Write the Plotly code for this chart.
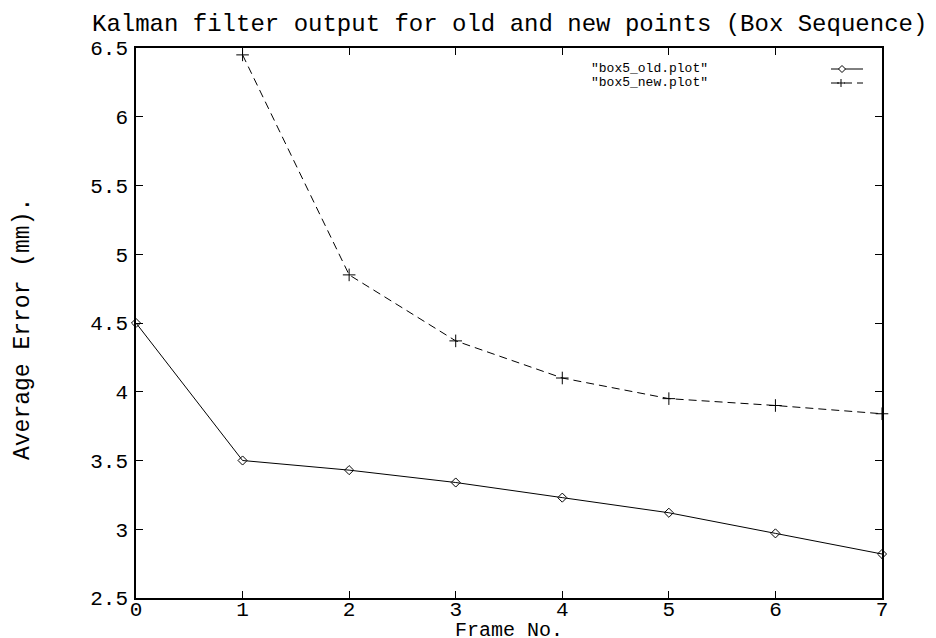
import plotly.graph_objects as go

# ---- data ----
frames_old = [0, 1, 2, 3, 4, 5, 6, 7]
err_old = [4.50, 3.50, 3.43, 3.34, 3.23, 3.12, 2.97, 2.82]
frames_new = [1, 2, 3, 4, 5, 6, 7]
err_new = [6.45, 4.85, 4.37, 4.10, 3.95, 3.90, 3.84]
x_ticks = [0, 1, 2, 3, 4, 5, 6, 7]
y_ticks = [2.5, 3, 3.5, 4, 4.5, 5, 5.5, 6, 6.5]
y_tick_text = ["2.5", "3", "3.5", "4", "4.5", "5", "5.5", "6", "6.5"]
name_old = '"box5_old.plot"'
name_new = '"box5_new.plot"'
title_text = "Kalman filter output for old and new points (Box Sequence)"
x_title = "Frame No."
y_title = "Average Error (mm)."

W, H = 936, 638
L, R, T, B = 128, 62, 40, 48
PW, PH = W - L - R, H - T - B
FONT = "Courier New, Courier, Liberation Mono, monospace"


def px(xp):
    return (xp - L) / PW


def py(yp):
    return (H - B - yp) / PH


fig = go.Figure()
fig.add_trace(go.Scatter(
    x=frames_old, y=err_old, mode="lines+markers", name=name_old,
    line=dict(color="black", width=1),
    marker=dict(symbol="diamond-open", size=7, color="black", line=dict(width=1)),
    cliponaxis=False, showlegend=False))
fig.add_trace(go.Scatter(
    x=frames_new, y=err_new, mode="lines+markers", name=name_new,
    line=dict(color="black", width=1, dash="8px,5px"),
    marker=dict(symbol="cross-thin-open", size=9, color="black", line=dict(width=1, color="black")),
    cliponaxis=False, showlegend=False))

axis_common = dict(showline=True, linecolor="black", linewidth=1.5, mirror="ticks",
                   ticks="inside", ticklen=7, tickcolor="black", tickwidth=1,
                   showgrid=False, zeroline=False,
                   tickfont=dict(family=FONT, size=21, color="black"))

fig.update_xaxes(range=[0, 7], tickvals=x_ticks, ticklabelstandoff=-9, **axis_common)
fig.update_yaxes(range=[2.5, 6.5], tickvals=y_ticks, ticktext=y_tick_text,
                 ticklabelstandoff=2, **axis_common)

annotations = [
    dict(text=title_text, xref="paper", yref="paper", x=0.5, y=1, yshift=24,
         xanchor="center", yanchor="middle", showarrow=False,
         font=dict(family=FONT, size=24, color="black")),
    dict(text=x_title, xref="paper", yref="paper", x=0.5, y=0, yshift=-32,
         xanchor="center", yanchor="middle", showarrow=False, borderpad=0,
         font=dict(family=FONT, size=20, color="black")),
    dict(text=y_title, xref="paper", yref="paper", x=0, y=(H - B - 321) / PH, xshift=-113,
         xanchor="center", yanchor="middle", textangle=-90, showarrow=False,
         font=dict(family=FONT, size=23, color="black")),
    dict(text=name_old, xref="paper", yref="paper", x=px(701), y=py(60),
         xanchor="right", yanchor="middle", showarrow=False, borderpad=0,
         font=dict(family=FONT, size=13, color="black")),
    dict(text=name_new, xref="paper", yref="paper", x=px(701), y=py(75),
         xanchor="right", yanchor="middle", showarrow=False, borderpad=0,
         font=dict(family=FONT, size=13, color="black")),
]

shapes = []
# legend sample: old (solid + diamond)
shapes.append(dict(type="line", xref="paper", yref="paper", x0=px(823), x1=px(855),
                   y0=py(61), y1=py(61), line=dict(color="black", width=1)))
cx, cy, d = 834, 61, 3.5
shapes.append(dict(type="path", xref="paper", yref="paper",
                   path=f"M {px(cx - d)} {py(cy)} L {px(cx)} {py(cy - d)} L {px(cx + d)} {py(cy)} L {px(cx)} {py(cy + d)} Z",
                   fillcolor="white", line=dict(color="black", width=1)))
# legend sample: new (dashed + plus)
shapes.append(dict(type="line", xref="paper", yref="paper", x0=px(823), x1=px(855),
                   y0=py(75), y1=py(75), line=dict(color="black", width=1, dash="8px,5px")))
cx, cy, d = 833, 75, 4
shapes.append(dict(type="line", xref="paper", yref="paper", x0=px(cx - d), x1=px(cx + d),
                   y0=py(cy), y1=py(cy), line=dict(color="black", width=1)))
shapes.append(dict(type="line", xref="paper", yref="paper", x0=px(cx), x1=px(cx),
                   y0=py(cy - d), y1=py(cy + d), line=dict(color="black", width=1)))

fig.update_layout(
    width=W, height=H,
    margin=dict(l=L, r=R, t=T, b=B, autoexpand=False),
    paper_bgcolor="white", plot_bgcolor="white",
    showlegend=False,
    annotations=annotations, shapes=shapes,
)

fig.write_html("out.html")
